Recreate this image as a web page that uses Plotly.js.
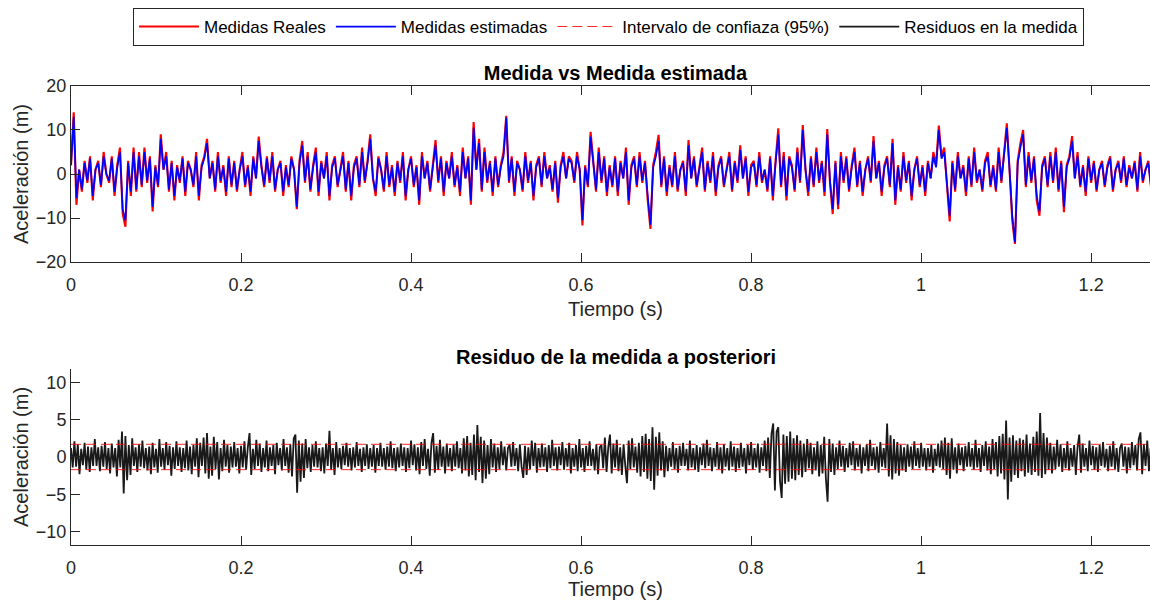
<!DOCTYPE html>
<html><head><meta charset="utf-8">
<script src="https://cdn.plot.ly/plotly-3.0.1.min.js"></script>
<style>html,body{margin:0;padding:0;overflow:hidden;background:#fff}</style>
</head><body><div id="chart"></div>
<script>
const T0 = 0;
const DT_MEAS = 0.0032;
const DT_RES = 0.002;
const T_RANGE = [0, 1.281];

const medidasReales = [
2,14,-7,1,-4,3,-2,4,-6,1,3,-3,5,0,-2,4,-5,2,6,-9,
-12,3,-5,6,-4,5,-3,6,-2,4,-8.5,2,-3,9,1,5,-4,3,-6,2,
-2,4,-5,3,1,-3,5,-6,2,4,8,-1,3,-4,5,-2,2,-5,4,-3,
3,-4,1,5,-3,2,-5,4,-1,8.5,2,-3,4,-2,5,-4,1,3,-5,2,
-3,4,1,-8,3,7.5,-2,5,-4,2,6,-5,3,-1,5,-6,2,4,-3,1,
5,-4,3,-6,2,4,-3,6,-2,3,9,-1,-5,4,1,-4,5,-3,2,-5,
3,-2,5,-6,1,4,-3,2,-7,5,-1,3,-4,2,7.7,-2,4,-5,3,-1,
5,-3,2,-5,6,-1,4,-7,11.8,1,8,-4,6,-2,3,-5,4,-3,2,5,
13.2,-2,4,-5,3,1,-4,5,-2,3,-6,2,4,-3,5,-1,2,-4,3,-6.5,
2,5,-1,4,3,-2,5,1,-11.7,2,-3,9.6,3,-4,6,-2,4,-5,2,-3,
4,-5,3,-1,6,-7,2,4,-3,5,-2,3,-6,-12.5,2,5,8.9,-3,4,-5,
2,-3,5,-4,1,3,-5,7.7,-1,4,-3,2,6,-4,3,-2,5,-5,2,4,
-3,1,5,-4,3,-2,6.5,-1,4,-5,2,3,-3,5,-2,1,-4,4,-6,3,
10.4,-3,5,-6,4,2,-4,6,-2,11.1,1,-5,4,-3,6,-2,3,-5,10.2,-2,
-9.1,3,-8,5,-2,4,-4,2,6,-3,3,-5,1,4,-2,8.6,-1,3,-5,2,
4,-3,8,-7,2,-4,5,-2,3,-6,1,4,-3,2,-5,3,-1,5,2,11,
4,6,-2,-10.8,3,-4,5,-1,2,-5,4,-3,6,-2,1,-4,3,5,-3,2,
-4,6,-2,5,11.5,1,-10.5,-15.9,3,7,10,-3,5,-2,4,-6,-9.5,2,4,-3,
5,-2,6,-4,3,-8.7,2,4,8.6,-1,5,-3,2,-5,4,-2,3,-4,1,3,
-3,2,4,-4,1,3,-2,4,-3,2,-1,3,-4,5,-2,1,3,-3,2,-2
];

const medidasEstimadas = [
2,13,-5.5,1,-3.5,2.5,-1.5,3.5,-5,1,2.5,-2.5,4,0,-1.5,3.5,-4,1.5,5,-8,
-10.5,2.5,-4,5,-3.5,4,-2.5,5,-1.5,3.5,-7.5,1.5,-2.5,8,1,4,-3.5,2.5,-5,1.5,
-1.5,3.5,-4,2.5,1,-2.5,4,-5,1.5,3.5,7,-1,2.5,-3.5,4,-1.5,1.5,-4,3.5,-2.5,
2.5,-3.5,1,4,-2.5,1.5,-4,3.5,-1,7.5,1.5,-2.5,3.5,-1.5,4,-3.5,1,2.5,-4,1.5,
-2.5,3.5,1,-7.5,2.5,6.5,-1.5,4,-3.5,1.5,5,-4,2.5,-1,4,-5,1.5,3.5,-2.5,1,
4,-3.5,2.5,-5,1.5,3.5,-2.5,5,-1.5,2.5,8,-1,-4,3.5,1,-3.5,4,-2.5,1.5,-4,
2.5,-1.5,4,-5,1,3.5,-2.5,1.5,-6,4,-1,2.5,-3.5,1.5,6.5,-1.5,3.5,-4,2.5,-1,
4,-2.5,1.5,-4,5,-1,3.5,-6,10.5,1,7,-3.5,5,-1.5,2.5,-4,3.5,-2.5,1.5,4,
12.8,-1.5,3.5,-4,2.5,1,-3.5,4,-1.5,2.5,-5,1.5,3.5,-2.5,4,-1,1.5,-3.5,2.5,-5.5,
1.5,4,-1,3.5,2.5,-1.5,4,1,-10.5,1.5,-2.5,8.5,2.5,-3.5,5,-1.5,3.5,-4,1.5,-2.5,
3.5,-4,2.5,-1,5,-6,1.5,3.5,-2.5,4,-1.5,2.5,-5,-11.5,1.5,4,7.5,-2.5,3.5,-4,
1.5,-2.5,4,-3.5,1,2.5,-4,6.5,-1,3.5,-2.5,1.5,5,-3.5,2.5,-1.5,4,-4,1.5,3.5,
-2.5,1,4,-3.5,2.5,-1.5,5.5,-1,3.5,-4,1.5,2.5,-2.5,4,-1.5,1,-3.5,3.5,-5,2.5,
9,-2.5,4,-5,3.5,1.5,-3.5,5,-1.5,10,1,-4,3.5,-2.5,5,-1.5,2.5,-4,9,-1.5,
-8,2.5,-7,4,-1.5,3.5,-3.5,1.5,5,-2.5,2.5,-4,1,3.5,-1.5,7.5,-1,2.5,-4,1.5,
3.5,-2.5,7,-6,1.5,-3.5,4,-1.5,2.5,-5,1,3.5,-2.5,1.5,-4,2.5,-1,4,1.5,10,
3.5,5,-1.5,-9.5,2.5,-3.5,4,-1,1.5,-4,3.5,-2.5,5,-1.5,1,-3.5,2.5,4,-2.5,1.5,
-3.5,5,-1.5,4,10.5,1,-9.5,-15.5,2.5,6,9,-2.5,4,-1.5,3.5,-5,-8.5,1.5,3.5,-2.5,
4,-1.5,5,-3.5,2.5,-7.5,1.5,3.5,7.5,-1,4,-2.5,1.5,-4,3.5,-1.5,2.5,-3.5,1,2.5,
-2.5,1.5,3.5,-3.5,1,2.5,-1.5,3.5,-2.5,1.5,-1,2.5,-3.5,4,-1.5,1,2.5,-2.5,1.5,-1.5
];

const residuos = [
1.2,-1.4,2.1,-1.3,1.7,-2.3,1.1,-1.1,1.9,-1.7,1.4,-2.0,1.3,-1.2,2.4,-1.2,1.3,-1.9,1.5,-1.3,2.0,-1.6,1.2,-2.2,1.8,-1.4,1.2,-2.6,2.3,-1.4,3.4,-4.9,
2.8,-3.1,1.6,-2.4,2.5,-1.2,1.3,-2.0,1.7,-1.3,2.2,-1.5,1.2,-1.8,1.4,-2.3,1.9,-1.4,1.1,-2.1,2.4,-1.3,1.2,-1.7,2.0,-1.1,1.5,-2.5,1.3,-1.6,2.1,-1.2,
1.3,-2.0,1.2,-1.5,2.2,-1.8,1.4,-2.3,1.6,-1.3,2.5,-2.7,1.9,-1.2,2.6,-2.2,3.2,-2.9,1.4,-2.5,2.7,-1.6,2.0,-3.0,1.2,-1.9,2.3,-1.3,1.6,-2.1,1.4,-1.4,
2.0,-1.3,1.2,-2.2,1.5,-1.4,2.1,-1.7,1.3,3.2,-2.4,1.1,-1.6,2.3,-1.2,1.8,-2.0,1.2,-1.4,2.2,-1.9,1.3,-1.2,1.6,-2.3,1.9,-1.1,1.2,-1.8,2.4,-1.2,1.3,
-2.1,1.7,-2.6,2.5,3.0,-4.8,2.2,-3.3,1.8,-2.8,2.4,-1.5,1.3,-2.0,1.6,-1.3,2.1,-1.4,1.2,-1.9,1.3,-2.2,1.8,-1.2,3.5,-1.7,1.2,-2.4,2.0,-1.4,1.2,-1.6,
1.5,-1.1,1.9,-1.3,1.2,-1.8,1.3,-1.4,2.0,-1.2,1.1,-2.0,1.3,-1.2,1.7,-1.6,1.2,-1.3,1.6,-2.1,1.2,-1.2,1.9,-1.3,1.2,-1.7,1.4,-1.3,2.1,-1.5,1.2,-1.9,
1.3,-1.4,1.8,-1.2,1.3,-2.0,1.2,-1.5,2.2,-1.1,1.7,-1.8,1.3,-2.3,2.0,-1.2,2.4,-1.6,1.1,-2.5,1.9,3.2,-2.1,1.5,-1.7,2.3,-1.3,1.4,-2.2,1.8,-1.3,1.2,
-1.9,1.6,-1.3,2.1,-1.5,1.2,-2.2,2.5,-1.8,2.8,-2.6,1.9,-2.4,3.0,-3.1,4.3,-2.0,2.7,-3.5,2.2,-2.9,1.6,-2.3,2.4,-1.4,1.8,-2.0,1.3,-1.6,2.1,-1.1,1.4,
-1.8,1.2,1.6,-1.3,2.0,-1.2,1.2,-1.9,1.7,-1.3,-2.8,1.5,-2.4,1.3,-1.6,2.2,-1.2,1.9,-2.1,1.2,-1.4,1.8,-1.3,1.3,-2.0,1.6,-1.5,2.3,-1.2,1.3,-1.8,1.4,
-1.1,2.0,-1.7,1.2,-1.3,1.9,-2.2,1.2,-1.3,1.6,-1.9,2.4,-1.4,1.2,-2.0,1.5,-1.2,2.1,-1.2,1.1,-1.8,1.7,-2.3,1.3,1.6,-1.5,2.6,-2.0,1.3,3.0,-2.2,1.8,
-1.4,2.3,-1.9,1.3,-2.4,1.7,-1.2,-3.5,2.2,-1.6,2.5,-1.4,1.4,-2.1,1.9,-2.6,2.8,-2.0,3.1,-2.9,2.4,-3.2,4.0,-4.4,2.7,-2.5,3.3,-1.8,2.1,-2.7,1.5,-1.9,
1.2,-1.3,2.0,-1.6,1.2,-2.1,1.5,-1.2,1.9,-1.2,1.1,-1.8,2.2,-1.4,1.2,-1.7,1.6,-2.0,1.3,-1.1,1.8,-1.5,2.3,-1.2,1.3,-1.9,1.2,-1.3,2.0,-1.6,1.3,-2.2,
1.7,-1.3,1.2,-1.8,2.1,-1.3,1.4,-2.0,1.2,-1.5,1.9,-1.3,1.2,-2.2,1.6,-1.1,2.0,-1.7,1.2,-1.4,1.8,-2.1,1.3,-1.2,2.2,-1.9,2.6,-2.8,3.1,4.5,-4.5,3.4,
4.0,-3.2,-5.5,3.0,-3.6,2.8,-3.3,3.4,-2.9,2.5,-3.1,2.9,-2.4,2.2,-2.7,1.8,-2.0,2.4,-1.5,1.9,-2.3,1.3,-1.8,2.1,-2.6,1.6,-2.2,2.7,-2.9,-6.0,2.4,-2.0,
1.8,-2.4,1.3,-1.6,2.2,-1.3,1.5,-2.0,1.2,-1.4,1.9,-1.1,2.1,-1.8,1.2,-1.3,1.6,-2.2,1.3,-1.2,1.7,-1.9,2.3,-1.2,1.3,-1.7,1.4,-2.1,2.0,-1.3,1.2,-1.5,
4.5,-2.6,2.9,-3.0,2.4,-2.2,2.0,-2.5,1.6,-1.8,1.3,-2.0,1.7,-1.3,1.4,-1.6,2.1,-1.2,1.2,-1.5,1.9,-1.3,1.2,-1.8,1.2,-1.3,1.6,-2.1,1.1,-1.2,1.8,-1.4,
2.2,-1.6,2.6,-2.4,1.9,-2.9,2.5,-1.7,1.3,-2.2,1.8,-1.1,1.3,-1.9,1.5,-1.3,2.0,-1.3,1.2,-1.7,2.3,-1.4,1.2,-2.0,1.6,-1.2,2.1,-1.8,1.4,-2.3,2.4,-1.6,
2.0,-2.6,2.8,-2.2,3.1,-3.0,4.9,-5.7,2.6,-3.3,2.9,-2.4,2.2,-2.8,2.5,-1.9,2.3,-2.6,3.0,-2.1,1.8,-2.4,2.7,-2.0,3.4,-2.5,5.9,-2.8,3.2,-2.3,2.6,-1.7,
1.9,-2.2,1.4,-1.6,2.3,-1.3,1.7,-2.0,1.2,-1.5,2.1,-1.8,1.2,-1.3,1.6,-2.4,1.3,3.0,-2.1,1.8,-1.3,1.2,-1.9,2.2,-1.1,1.5,-1.7,1.3,-2.0,1.6,-1.2,2.0,
-1.4,1.1,-1.9,1.5,-1.3,2.1,-1.6,1.2,-2.0,1.2,1.8,-1.3,1.4,-2.2,1.3,-1.5,2.0,-1.1,1.6,-1.8,2.4,3.3,-2.3,1.7,-1.2,2.2,-1.9,1.2,-1.4,1.9,-1.3,1.3
];

const CI_TIMES = [0, 1.281];
const CI_UPPER = [1.7, 1.7];
const CI_LOWER = [-1.7, -1.7];

const X_TICKS = [0, 0.2, 0.4, 0.6, 0.8, 1, 1.2];
const Y1_TICKS = [-20, -10, 0, 10, 20];
const Y2_TICKS = [-10, -5, 0, 5, 10];

const FONT = 'Liberation Sans, Arial, Helvetica, sans-serif';
const AX = '#262626';

const traces = [
  {type:'scatter', mode:'lines', name:'Medidas Reales', x0:T0, dx:DT_MEAS, y:medidasReales,
   xaxis:'x', yaxis:'y', line:{color:'rgb(255,0,0)', width:2.1}, legendrank:1, hoverinfo:'skip'},
  {type:'scatter', mode:'lines', name:'Medidas estimadas', x0:T0, dx:DT_MEAS, y:medidasEstimadas,
   xaxis:'x', yaxis:'y', line:{color:'rgb(0,0,255)', width:1.7}, legendrank:2, hoverinfo:'skip'},
  {type:'scatter', mode:'lines', name:'Residuos en la medida', x0:T0, dx:DT_RES, y:residuos,
   xaxis:'x2', yaxis:'y2', line:{color:'rgba(0,0,0,0.9)', width:1.8}, legendrank:4, hoverinfo:'skip'},
  {type:'scatter', mode:'lines', name:'Intervalo de confiaza (95%)', x:CI_TIMES, y:CI_UPPER,
   xaxis:'x2', yaxis:'y2', line:{color:'rgba(255,0,0,0.85)', width:1, dash:'10px,5px'}, legendrank:3, hoverinfo:'skip'},
  {type:'scatter', mode:'lines', name:'Intervalo de confiaza (95%)', x:CI_TIMES, y:CI_LOWER,
   xaxis:'x2', yaxis:'y2', line:{color:'rgba(255,0,0,0.85)', width:1, dash:'10px,5px'}, showlegend:false, hoverinfo:'skip'}
];

function xAxis(anchor, mirror){
  return {anchor:anchor, domain:[0,1], range:T_RANGE, tickvals:X_TICKS, ticks:'inside', ticklen:9,
    tickcolor:AX, linecolor:AX, linewidth:1, showline:true, mirror:mirror, showgrid:false, zeroline:false,
    tickfont:{family:FONT, size:18, color:AX}, ticklabelstandoff:6, automargin:false,
    title:{text:'Tiempo (s)', font:{family:FONT, size:20, color:AX}, standoff:8}};
}
function yAxis(anchor, domain, range, ticks, mirror){
  return {anchor:anchor, domain:domain, range:range, tickvals:ticks, ticks:'inside', ticklen:9,
    tickcolor:AX, linecolor:AX, linewidth:1, showline:true, mirror:mirror, showgrid:false, zeroline:false,
    tickfont:{family:FONT, size:18, color:AX}, automargin:false,
    title:{text:'Aceleración (m)', font:{family:FONT, size:20, color:AX}, standoff:1}};
}

const layout = {
  width:1160, height:600,
  margin:{l:71, r:0, t:0, b:0},
  paper_bgcolor:'#fff', plot_bgcolor:'#fff',
  font:{family:FONT, color:'#000'},
  title:{text:'<b>Medida vs Medida estimada</b>', font:{family:FONT, size:20, color:'#000'},
    x:0.5, xref:'paper', xanchor:'center', y:0.878, yref:'container', yanchor:'middle'},
  xaxis:xAxis('y', 'ticks'),
  yaxis:yAxis('x', [0.5633, 0.8567], [-20, 20], Y1_TICKS, 'ticks'),
  xaxis2:xAxis('y2', false),
  yaxis2:yAxis('x2', [0.0917, 0.385], [-11.8, 11.8], Y2_TICKS, false),
  showlegend:true,
  legend:{orientation:'h', x:0.0569, xanchor:'left', y:0.9867, yanchor:'top', xref:'paper', yref:'paper',
    bordercolor:AX, borderwidth:1, bgcolor:'#fff', font:{family:FONT, size:17, color:'#000'}, itemwidth:60, traceorder:'normal'},
  annotations:[{text:'<b>Residuo de la medida a posteriori</b>', xref:'paper', yref:'paper', x:0.5, y:0.405,
    xanchor:'center', yanchor:'middle', showarrow:false, font:{family:FONT, size:20, color:'#000'}}]
};

Plotly.newPlot('chart', traces, layout, {staticPlot:true, displayModeBar:false});
</script></body></html>
